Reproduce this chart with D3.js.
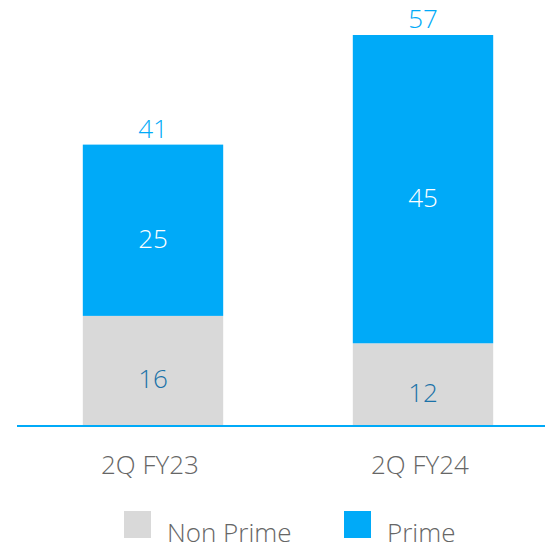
<!DOCTYPE html>
<html>
<head>
<meta charset="utf-8">
<script src="https://cdn.jsdelivr.net/npm/d3@7"></script>
<style>
  html, body { margin: 0; padding: 0; background: #fff; }
  svg { display: block; }
  text { font-family: "Open Sans", "Noto Sans", sans-serif; font-weight: 300; }
</style>
</head>
<body>
<svg id="chart" width="545" height="550"></svg>
<script>
const categories = ["2Q FY23", "2Q FY24"];
const nonPrime = [16, 12];
const prime = [25, 45];
const totals = [41, 57];
const seriesNames = ["Non Prime", "Prime"];
const colors = ["#D9D9D9", "#00AAF8"];

const svg = d3.select("#chart");
const baseY = 425.5;
const x = d3.scaleBand().domain(categories).range([18, 558]).paddingInner(0.48).paddingOuter(0.24);
const y = d3.scaleLinear().domain([0, 57]).range([baseY, 35]);

const rows = categories.map((c, i) => ({ cat: c, np: nonPrime[i], p: prime[i], t: totals[i] }));
const stack = d3.stack().keys(["np", "p"])(rows);

stack.forEach((layer, li) => {
  svg.append("g").selectAll("rect").data(layer).join("rect")
    .attr("x", d => x(d.data.cat))
    .attr("width", x.bandwidth())
    .attr("y", d => y(d[1]))
    .attr("height", d => y(d[0]) - y(d[1]))
    .attr("fill", colors[li]);
});

const fs = 26;
// segment labels
svg.append("g").selectAll("text").data(stack[0]).join("text")
  .attr("x", d => x(d.data.cat) + x.bandwidth() / 2)
  .attr("y", d => (y(d[0]) + y(d[1])) / 2 + 17.5)
  .attr("text-anchor", "middle").attr("font-size", fs).attr("fill", "#1A72A8").attr("font-weight", 400)
  .text(d => d.data.np);
svg.append("g").selectAll("text").data(stack[1]).join("text")
  .attr("x", d => x(d.data.cat) + x.bandwidth() / 2)
  .attr("y", d => (y(d[0]) + y(d[1])) / 2 + 17.5)
  .attr("text-anchor", "middle").attr("font-size", fs).attr("fill", "#ffffff")
  .text(d => d.data.p);
// totals
svg.append("g").selectAll("text").data(rows).join("text")
  .attr("x", d => x(d.cat) + x.bandwidth() / 2)
  .attr("y", d => y(d.t) - 7)
  .attr("text-anchor", "middle").attr("font-size", fs).attr("fill", "#00AAF8").attr("font-weight", 400)
  .text(d => d.t);

// axis
svg.append("line").attr("x1", 17).attr("x2", 545).attr("y1", baseY + 0.5).attr("y2", baseY + 0.5)
  .attr("stroke", "#00AAF8").attr("stroke-width", 2);

svg.append("g").selectAll("text").data(categories).join("text")
  .attr("x", d => x(d) + x.bandwidth() / 2 - 3)
  .attr("y", 474)
  .attr("text-anchor", "middle").attr("font-size", fs).attr("fill", "#666666")
  .text(d => d);

// legend
const legX = [124, 344];
seriesNames.forEach((n, i) => {
  svg.append("rect").attr("x", legX[i]).attr("y", 511).attr("width", 27).attr("height", 27).attr("fill", colors[i]);
  svg.append("text").attr("x", legX[i] + 43).attr("y", 542).attr("font-size", fs).attr("fill", "#666666").text(n);
});
</script>
</body>
</html>
